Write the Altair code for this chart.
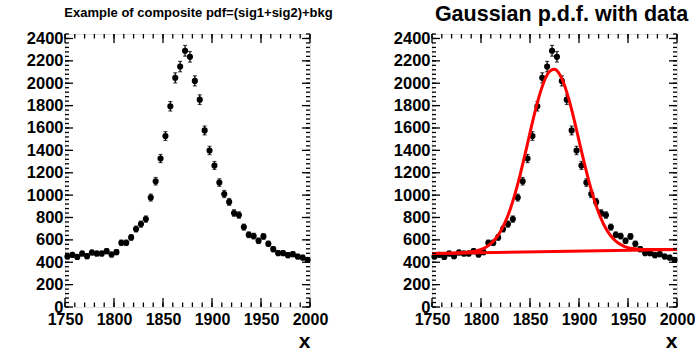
import altair as alt
import pandas as pd

# ---- data ----
x_centers = [1752.5, 1757.5, 1762.5, 1767.5, 1772.5, 1777.5, 1782.5, 1787.5, 1792.5, 1797.5,
             1802.5, 1807.5, 1812.5, 1817.5, 1822.5, 1827.5, 1832.5, 1837.5, 1842.5, 1847.5,
             1852.5, 1857.5, 1862.5, 1867.5, 1872.5, 1877.5, 1882.5, 1887.5, 1892.5, 1897.5,
             1902.5, 1907.5, 1912.5, 1917.5, 1922.5, 1927.5, 1932.5, 1937.5, 1942.5, 1947.5,
             1952.5, 1957.5, 1962.5, 1967.5, 1972.5, 1977.5, 1982.5, 1987.5, 1992.5, 1997.5]
counts = [451, 466, 448, 478, 454, 487, 478, 478, 499, 469,
          490, 574, 574, 622, 697, 741, 786, 978, 1124, 1327,
          1528, 1794, 2048, 2149, 2290, 2236, 2021, 1853, 1578, 1399,
          1265, 1112, 1010, 939, 840, 822, 714, 646, 634, 592,
          631, 565, 517, 481, 481, 463, 472, 451, 442, 421]

# fitted total curve
curve_x = [1750, 1770, 1780, 1790, 1795, 1800, 1805, 1810, 1815, 1820, 1825, 1830, 1835,
           1840, 1845, 1850, 1855, 1860, 1865, 1870, 1875, 1880, 1885, 1890, 1895, 1900,
           1905, 1910, 1915, 1920, 1925, 1930, 1935, 1940, 1945, 1950, 1955, 1960, 1970,
           1980, 2000]
curve_y = [478, 481, 485, 493, 501, 514, 534, 566, 612, 677, 765, 879, 1020,
           1184, 1367, 1556, 1741, 1903, 2029, 2105, 2124, 2083, 1987, 1846, 1675, 1488,
           1301, 1127, 973, 844, 742, 665, 610, 572, 547, 531, 522, 517, 513,
           513, 516]
# background component
bkg_x = [1750, 2000]
bkg_y = [478, 515]

x_major = [1750, 1800, 1850, 1900, 1950, 2000]
x_minor = list(range(1750, 2001, 10))
y_major = [0, 200, 400, 600, 800, 1000, 1200, 1400, 1600, 1800, 2000, 2200, 2400]
y_minor = list(range(0, 2441, 40))

titles = ["Example of composite pdf=(sig1+sig2)+bkg", "Gaussian p.d.f. with data"]
x_title = "x"

# ---- styling ----
W, H = 245, 273
FONT = "Liberation Sans"
XDOM = [1750, 2000]
YDOM = [0, 2440]

pts = pd.DataFrame({"x": x_centers, "n": counts})
crv = pd.DataFrame({"x": curve_x, "y": curve_y})
bkg = pd.DataFrame({"x": bkg_x, "y": bkg_y})
xmaj = pd.DataFrame({"v": x_major})
xmin = pd.DataFrame({"v": x_minor})
ymaj = pd.DataFrame({"v": y_major})
ymin = pd.DataFrame({"v": y_minor})

xs = alt.Scale(domain=XDOM, nice=False, zero=False)
ys = alt.Scale(domain=YDOM, nice=False, zero=False)

xaxis = alt.Axis(values=x_major, format="d", ticks=False, domain=False, grid=False,
                 labelFont=FONT, labelFontSize=16, labelFontWeight="bold",
                 labelColor="black", labelPadding=4, labelFlush=False, labelOverlap=False,
                 title=x_title, titleFont=FONT, titleFontSize=21, titleFontWeight="bold",
                 titleColor="black", titleAnchor="end", titleAlign="right",
                 titlePadding=3)
yaxis = alt.Axis(values=y_major, format="d", ticks=False, domain=False, grid=False,
                 labelFont=FONT, labelFontSize=16.5, labelFontWeight="bold",
                 labelColor="black", labelPadding=2, labelOverlap=False,
                 labelFlush=False, title=None)


def X(field):
    return alt.X(field, type="quantitative", scale=xs, axis=xaxis)


def Y(field):
    return alt.Y(field, type="quantitative", scale=ys, axis=yaxis)


def tick_layers():
    L = []
    # bottom / top ticks (inward)
    for df, ln in ((xmaj, 9), (xmin, 4.5)):
        L.append(alt.Chart(df).mark_rule(color="black", strokeWidth=1.3).encode(
            x=X("v"), y=alt.value(H), y2=alt.value(H - ln)))
        L.append(alt.Chart(df).mark_rule(color="black", strokeWidth=1.3).encode(
            x=X("v"), y=alt.value(0), y2=alt.value(ln)))
    for df, ln in ((ymaj, 8), (ymin, 4)):
        L.append(alt.Chart(df).mark_rule(color="black", strokeWidth=1.3).encode(
            y=Y("v"), x=alt.value(0), x2=alt.value(ln)))
        L.append(alt.Chart(df).mark_rule(color="black", strokeWidth=1.3).encode(
            y=Y("v"), x=alt.value(W), x2=alt.value(W - ln)))
    return L


def data_layers():
    base = alt.Chart(pts).transform_calculate(
        lo="datum.n - sqrt(datum.n)", hi="datum.n + sqrt(datum.n)")
    bars = base.mark_rule(color="black", strokeWidth=1.2).encode(
        x=X("x"), y=Y("lo:Q"), y2="hi:Q")
    cap_lo = base.mark_tick(color="black", orient="horizontal", size=4, thickness=1.2).encode(
        x=X("x"), y=Y("lo:Q"))
    cap_hi = base.mark_tick(color="black", orient="horizontal", size=4, thickness=1.2).encode(
        x=X("x"), y=Y("hi:Q"))
    dots = base.mark_circle(color="black", opacity=1, size=38).encode(
        x=X("x"), y=Y("n:Q"))
    return [bars, cap_lo, cap_hi, dots]


def panel(title, size, dx, offset, fit):
    layers = data_layers()
    if fit:
        layers.append(alt.Chart(bkg).mark_line(color="#ff0000", strokeWidth=3, clip=True).encode(
            x=X("x"), y=Y("y:Q")))
        layers.append(alt.Chart(crv).mark_line(color="#ff0000", strokeWidth=3, clip=True,
                                               interpolate="monotone").encode(
            x=X("x"), y=Y("y:Q")))
    layers += tick_layers()
    return alt.layer(*layers).properties(
        width=W, height=H,
        title=alt.TitleParams(title, font=FONT, fontSize=size, fontWeight="bold",
                              color="black", anchor="middle", dx=dx, offset=offset,
                              baseline="alphabetic"))


left = panel(titles[0], 13, 11, 0, False)
right = panel(titles[1], 21.5, 7, -12, True)

chart = alt.hconcat(left, right, spacing=122, bounds="flush").properties(
    padding={"left": 25, "top": 3, "right": 0, "bottom": 0},
).configure_view(stroke="black", strokeWidth=3).configure(background="white")

chart.save("out.html", embed_options={"renderer": "svg", "actions": False})
